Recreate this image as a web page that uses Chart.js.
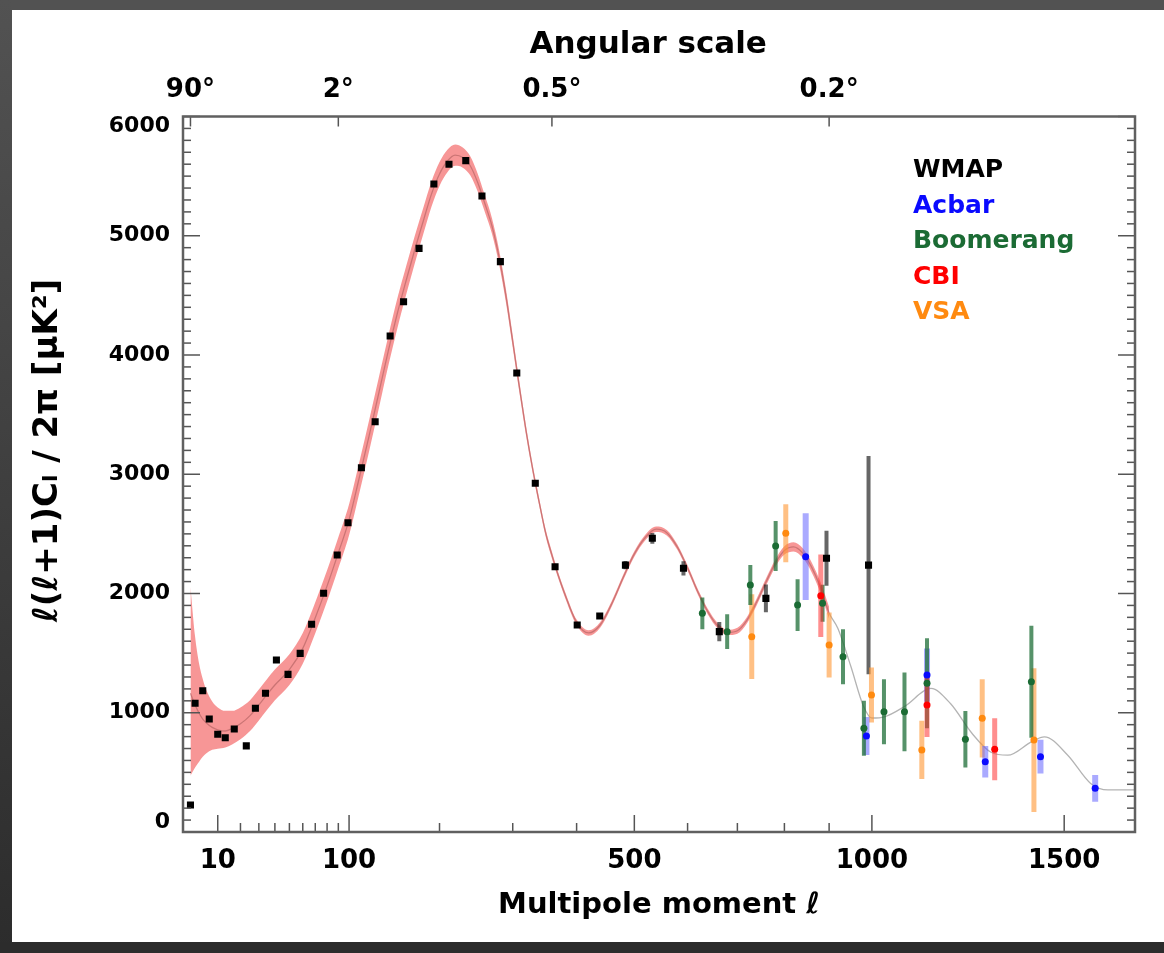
<!DOCTYPE html>
<html>
<head>
<meta charset="utf-8">
<title>CMB power spectrum</title>
<script src="https://cdn.jsdelivr.net/npm/chart.js@4.4.1/dist/chart.umd.min.js"></script>
<style>
    html, body { margin: 0; padding: 0; overflow: hidden; background: #ffffff; }
    body { width: 1164px; height: 953px; position: relative; }
    .edge { position: absolute; background: linear-gradient(#525252, #2c2c2c); }
    #edgeTop { left: 0; top: 0; width: 100%; height: 10px; background: #525252; }
    #edgeLeft { left: 0; top: 0; width: 12px; height: 100%; }
    #edgeBottom { left: 0; bottom: 0; width: 100%; height: 11px; background: #2c2c2c; }
    #corner { position: absolute; left: 12px; top: 10px; width: 20px; height: 20px;
        border-top-left-radius: 8px; background: #fff; }
    #wrap { position: absolute; left: 0; top: 0; width: 1164px; height: 953px; }
</style>
</head>
<body>
<div class="edge" id="edgeTop"></div>
<div class="edge" id="edgeLeft"></div>
<div class="edge" id="edgeBottom"></div>
<div id="wrap"><canvas id="cmbChart"></canvas></div>
<script>
// cmb.js - WMAP angular power spectrum with the small-scale experiments

// ---- axis ticks ----
const bottomTicks = [10, 100, 500, 1000, 1500];
const bottomMinor = [20, 30, 40, 50, 60, 70, 80, 90, 200, 300, 400, 600, 700, 800, 900];
const topTicks = [2, 90, 360, 900];
const topLabels = ['90\u00b0', '2\u00b0', '0.5\u00b0', '0.2\u00b0'];

// ---- best fit model (center line) and its band ----
const theoryL = [2, 3, 4, 5, 6, 8, 10, 13, 16, 20, 25, 30, 35, 40, 50, 60, 70, 80, 90, 100,
    110, 120, 130, 140, 150, 160, 170, 180, 190, 200, 210, 220, 230, 240, 250, 260, 270, 280, 290, 300,
    310, 320, 330, 340, 350, 360, 370, 380, 400, 420, 440, 460, 480, 500, 520, 540, 560, 580, 600, 620,
    640, 660, 680, 700, 720, 740, 760, 780, 800, 820, 840, 860, 880, 900,
    920, 950, 980, 1000, 1030, 1080, 1145, 1195, 1250, 1300, 1345, 1410, 1445, 1510, 1575, 1625, 1704];
const theoryV = [1164, 1065, 996, 946, 917, 877, 857, 847, 867, 907, 976, 1065, 1154, 1233, 1362, 1540, 1797, 2064, 2341, 2618,
    2975, 3331, 3687, 4034, 4350, 4627, 4885, 5122, 5349, 5518, 5627, 5676, 5656, 5587, 5448, 5270, 5082, 4825, 4498, 4113,
    3727, 3361, 3044, 2767, 2510, 2322, 2153, 2005, 1758, 1669, 1738, 1916, 2134, 2332, 2470, 2539, 2510, 2391, 2213, 2015,
    1847, 1728, 1674, 1688, 1777, 1926, 2094, 2252, 2361, 2391, 2341, 2223, 2054, 1837,
    1708, 1392, 1055, 956, 966, 1055, 1204, 1075, 828, 669, 644, 758, 798, 644, 407, 353, 353];
const bandHigh = [2054, 1639, 1411, 1283, 1194, 1095, 1045, 1016, 1016, 1045, 1105, 1194, 1283, 1362, 1490, 1669, 1927, 2194, 2471, 2748,
    3105, 3461, 3817, 4159, 4475, 4747, 5000, 5232, 5454, 5618, 5722, 5766, 5741, 5667, 5523, 5340, 5147, 4885, 4553, 4163,
    3772, 3401, 3079, 2799, 2540, 2350, 2179, 2030, 1781, 1692, 1761, 1939, 2157, 2355, 2493, 2562, 2533, 2414, 2236, 2038,
    1870, 1751, 1697, 1713, 1803, 1954, 2124, 2284, 2396, 2429, 2381, 2265, 2099, 1887];
const bandLow = [471, 541, 590, 630, 659, 689, 699, 709, 734, 778, 847, 936, 1025, 1105, 1233, 1411, 1667, 1934, 2211, 2488,
    2845, 3201, 3557, 3909, 4225, 4507, 4770, 5012, 5244, 5418, 5532, 5586, 5571, 5507, 5373, 5200, 5017, 4765, 4443, 4063,
    3682, 3321, 3009, 2735, 2480, 2294, 2127, 1980, 1735, 1646, 1715, 1893, 2111, 2309, 2447, 2516, 2487, 2368, 2190, 1992,
    1824, 1705, 1651, 1663, 1751, 1898, 2064, 2220, 2326, 2353, 2301, 2181, 2009, 1787];

// ---- measurements: multipole, value, error ----
const wmapL = [2, 3, 5, 7, 10, 13, 17, 23, 28, 34, 41, 49, 58, 67, 77, 89, 99, 112, 126, 142,
    157, 175, 193, 212, 234, 256, 282, 306, 334, 365, 401, 439, 484, 533, 592, 663, 760, 894, 992];
const wmapV = [227, 1079, 1185, 947, 820, 791, 864, 722, 1037, 1163, 1442, 1322, 1498, 1742, 2002, 2323, 2594, 3055, 3441, 4159,
    4447, 4894, 5434, 5599, 5630, 5334, 4783, 3849, 2924, 2225, 1736, 1811, 2238, 2463, 2211, 1680, 1959, 2295, 2238];
const wmapE = [0, 0, 0, 0, 0, 0, 0, 0, 0, 0, 0, 0, 0, 0, 0, 0, 0, 0, 0, 0,
    0, 0, 0, 0, 0, 0, 0, 0, 0, 0, 20, 25, 35, 45, 60, 80, 116, 231, 915];

const acbarL = [847, 987, 1135, 1285, 1434, 1588];
const acbarV = [2309, 805, 1316, 589, 632, 366];
const acbarE = [364, 160, 223, 133, 141, 112];

const boomL = [629, 679, 727, 781, 829, 885, 932, 981, 1029, 1079, 1135, 1233, 1409];
const boomV = [1834, 1680, 2071, 2398, 1903, 1918, 1470, 870, 1008, 1008, 1247, 777, 1260];
const boomE = [133, 146, 168, 210, 217, 155, 231, 231, 272, 330, 377, 237, 469];

const cbiL = [881, 1135, 1310];
const cbiV = [1981, 1065, 694];
const cbiE = [346, 268, 259];

const vsaL = [730, 803, 900, 999, 1122, 1277, 1416];
const vsaV = [1638, 2505, 1568, 1149, 688, 953, 771];
const vsaE = [356, 243, 272, 231, 244, 328, 603];

// drawing order of the bars: first is at the bottom
const experiments = [
    { name: 'WMAP', l: wmapL, v: wmapV, e: wmapE, color: '#000000', bar: 'rgba(20,20,20,0.65)', width: 4, style: 'rect', r: 5 },
    { name: 'VSA', l: vsaL, v: vsaV, e: vsaE, color: '#ff8a10', bar: 'rgba(255,150,50,0.6)', width: 5, style: 'circle', r: 3.5 },
    { name: 'Acbar', l: acbarL, v: acbarV, e: acbarE, color: '#0a0aff', bar: 'rgba(100,100,255,0.55)', width: 6, style: 'circle', r: 3.5 },
    { name: 'Boomerang', l: boomL, v: boomV, e: boomE, color: '#1b6b34', bar: 'rgba(30,110,55,0.75)', width: 4, style: 'circle', r: 3.5 },
    { name: 'CBI', l: cbiL, v: cbiV, e: cbiE, color: '#ff0000', bar: 'rgba(255,50,50,0.55)', width: 5, style: 'circle', r: 3.5 }
];
const legendOrder = ['WMAP', 'Acbar', 'Boomerang', 'CBI', 'VSA'];

// x position goes as l^0.6, like the original figure
const X_POWER = 0.6;

class PowerScale extends Chart.Scale {
    static id = 'power';
    static defaults = {};

    determineDataLimits() {
        const b = this.getUserBounds();
        this.min = b.min;
        this.max = b.max;
    }
    buildTicks() {
        const list = this.id === 'x2' ? topTicks : bottomTicks;
        return list.map(v => ({ value: v }));
    }
    configure() {
        super.configure();
        this._a = Math.pow(this.min, X_POWER);
        this._b = Math.pow(this.max, X_POWER);
    }
    getPixelForValue(v) {
        return this.getPixelForDecimal((Math.pow(v, X_POWER) - this._a) / (this._b - this._a));
    }
    getValueForPixel(px) {
        const d = this.getDecimalForPixel(px);
        return Math.pow(this._a + d * (this._b - this._a), 1 / X_POWER);
    }
    getLabelForValue(v) {
        return String(Math.round(v));
    }
}
Chart.register(PowerScale);

// error bars go above the model curve, below the markers
const errorBars = {
    id: 'errorBars',
    afterDatasetDraw(chart, args) {
        if (chart.data.datasets[args.index].label !== 'model') return;
        const { ctx, chartArea: a, scales: { x, y } } = chart;
        ctx.save();
        ctx.beginPath();
        ctx.rect(a.left, a.top, a.right - a.left, a.bottom - a.top);
        ctx.clip();
        experiments.forEach(exp => {
            ctx.strokeStyle = exp.bar;
            ctx.lineWidth = exp.width;
            exp.l.forEach((l, i) => {
                const err = exp.e[i];
                if (!err) return;
                const px = x.getPixelForValue(l);
                ctx.beginPath();
                ctx.moveTo(px, y.getPixelForValue(exp.v[i] - err));
                ctx.lineTo(px, y.getPixelForValue(exp.v[i] + err));
                ctx.stroke();
            });
        });
        ctx.restore();
    }
};

// box with inward ticks, IDL style, plus the coloured names
const idlFrame = {
    id: 'idlFrame',
    afterDatasetsDraw(chart) {
        const { ctx, chartArea: a, scales: { x, y } } = chart;
        ctx.save();
        ctx.strokeStyle = '#555';
        ctx.lineWidth = 1.5;
        const line = (x1, y1, x2, y2) => {
            ctx.beginPath();
            ctx.moveTo(x1, y1);
            ctx.lineTo(x2, y2);
            ctx.stroke();
        };
        bottomTicks.forEach(l => { const px = x.getPixelForValue(l); line(px, a.bottom, px, a.bottom - 17); });
        bottomMinor.forEach(l => { const px = x.getPixelForValue(l); line(px, a.bottom, px, a.bottom - 9); });
        topTicks.forEach(l => { const px = x.getPixelForValue(l); line(px, a.top, px, a.top + 10); });
        for (let v = 0; v <= 6000; v += 100) {
            const py = y.getPixelForValue(v);
            const len = v % 1000 === 0 ? 17 : 8;
            line(a.left, py, a.left + len, py);
            line(a.right, py, a.right - len, py);
        }
        ctx.lineWidth = 2.5;
        ctx.strokeStyle = '#606060';
        ctx.strokeRect(a.left, a.top, a.right - a.left, a.bottom - a.top);

        ctx.font = "bold 25px 'DejaVu Sans'";
        ctx.textAlign = 'left';
        ctx.textBaseline = 'middle';
        legendOrder.forEach((name, i) => {
            const exp = experiments.find(e => e.name === name);
            ctx.fillStyle = exp.color;
            ctx.fillText(name, a.right - 222, a.top + 54 + i * 35.5);
        });
        ctx.restore();
    }
};

function initChart() {
    Chart.defaults.font.family = "'DejaVu Sans', sans-serif";
    Chart.defaults.font.weight = 'bold';
    Chart.defaults.color = '#000';

    const ctx = document.getElementById('cmbChart').getContext('2d');
    const nBand = bandHigh.length;

    const datasets = [
        {
            label: 'bandHigh',
            data: bandHigh.map((v, i) => ({ x: theoryL[i], y: v })),
            borderWidth: 0, pointRadius: 0, fill: false,
            cubicInterpolationMode: 'monotone', order: 10
        },
        {
            label: 'bandLow',
            data: bandLow.map((v, i) => ({ x: theoryL[i], y: v })),
            borderWidth: 0, pointRadius: 0, fill: '-1',
            backgroundColor: 'rgba(245,120,120,0.78)',
            cubicInterpolationMode: 'monotone', order: 9
        },
        {
            label: 'model',
            data: theoryV.map((v, i) => ({ x: theoryL[i], y: v })),
            borderWidth: 1.3, pointRadius: 0, fill: false,
            cubicInterpolationMode: 'monotone', order: 8,
            segment: {
                borderColor: c => c.p1.parsed.x <= theoryL[nBand - 1] ? 'rgba(175,95,95,0.6)' : '#b4b4b4'
            }
        }
    ];
    experiments.forEach((exp, k) => {
        datasets.push({
            label: exp.name,
            data: exp.l.map((l, i) => ({ x: l, y: exp.v[i] })),
            showLine: false,
            pointStyle: exp.style,
            pointRadius: exp.r,
            pointBackgroundColor: exp.color,
            pointBorderWidth: 0,
            order: 5 - k
        });
    });

    const yTitle = '\u00a0\u00a0\u00a0\u00a0\u2113(\u2113+1)C\u2097 / 2\u03c0 [\u03bcK\u00b2]';

    new Chart(ctx, {
        type: 'line',
        data: { datasets },
        options: {
            responsive: true,
            maintainAspectRatio: false,
            animation: false,
            layout: { padding: { left: 0, right: 29, top: 0, bottom: 0 } },
            plugins: {
                legend: { display: false },
                tooltip: { enabled: false }
            },
            scales: {
                x: {
                    type: 'power', position: 'bottom', min: 0.75, max: 1704,
                    grid: { display: false, drawTicks: false },
                    border: { display: false },
                    ticks: { font: { size: 26, lineHeight: 1 }, padding: 16, autoSkip: false, minRotation: 0, maxRotation: 0 },
                    title: { display: true, text: 'Multipole moment \u2113', font: { size: 29, lineHeight: 1 }, padding: { top: 0, bottom: 33 } },
                    afterFit: s => { s.height = 121; }
                },
                x2: {
                    type: 'power', axis: 'x', position: 'top', min: 0.75, max: 1704,
                    grid: { display: false, drawTicks: false },
                    border: { display: false },
                    ticks: {
                        font: { size: 26, lineHeight: 1 }, padding: 13, autoSkip: false, minRotation: 0, maxRotation: 0,
                        callback: (v, i) => topLabels[i]
                    },
                    title: { display: true, text: 'Angular scale\u00a0\u00a0', font: { size: 31, lineHeight: 1 }, padding: { top: 29, bottom: 0 } },
                    afterFit: s => { s.height = 116.5; }
                },
                y: {
                    min: 0, max: 6000,
                    grid: { display: false, drawTicks: false },
                    border: { display: false },
                    ticks: {
                        stepSize: 1000, padding: 13,
                        font: { size: 22, lineHeight: '20px' },
                        // the end labels sit just inside the box
                        callback: v => v === 6000 ? ['', '6000'] : (v === 0 ? ['0', ''] : String(v))
                    },
                    title: { display: true, text: yTitle, font: { size: 34, lineHeight: 1 }, padding: { top: 31, bottom: 0 } },
                    afterFit: s => { s.width = 183; }
                }
            }
        },
        plugins: [errorBars, idlFrame]
    });
}

if (document.readyState === 'loading') {
    document.addEventListener('DOMContentLoaded', initChart);
} else {
    initChart();
}
</script>
</body>
</html>
